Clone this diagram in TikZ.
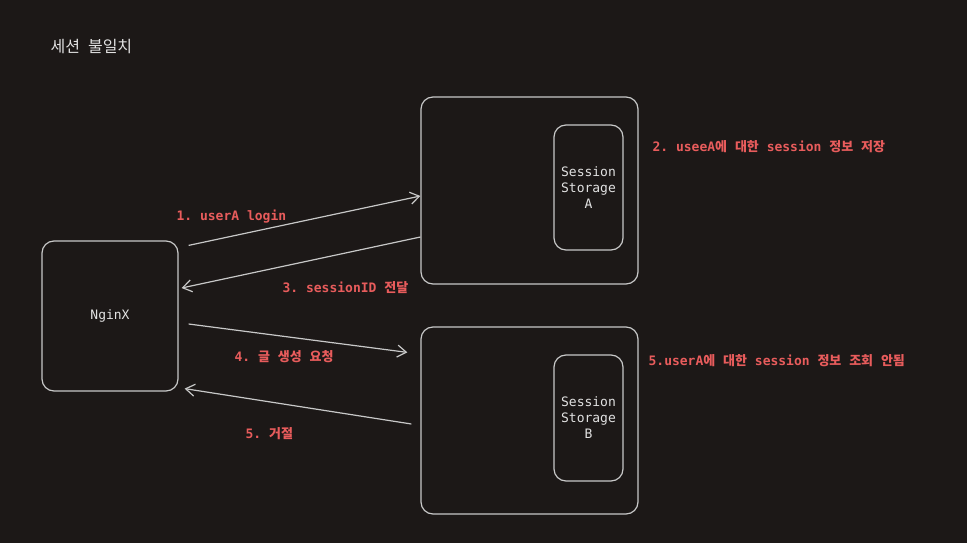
\documentclass[tikz,border=0pt]{standalone}
\usepackage{fontspec}
\setmainfont{DejaVu Sans}
\setmonofont{DejaVu Sans Mono}
\newfontfamily\krfont{Noto Sans CJK KR}
\newcommand{\ko}[1]{{\krfont #1}}
\usetikzlibrary{arrows.meta,positioning}
\definecolor{bg}{HTML}{1C1817}
\definecolor{edgegray}{HTML}{C8C8C8}
\definecolor{labelred}{HTML}{E85C5C}
\definecolor{textwhite}{HTML}{E2E2E2}

\begin{document}
\begin{tikzpicture}[x=1pt,y=-1pt,>={Straight Barb[length=9pt,width=12pt]},
                    line width=1.2pt]

  \tikzstyle{box}=[draw=edgegray,rounded corners=12pt,text=textwhite,align=center,
                   font=\ttfamily\fontsize{13}{16}\selectfont]
  \tikzstyle{msg}=[text=labelred,inner sep=0pt,anchor=west,
                   font=\ttfamily\bfseries\fontsize{13}{16}\selectfont]
  \tikzstyle{link}=[->,draw=edgegray]

  \fill[bg] (0,0) rectangle (967,543);
  \useasboundingbox (0,0) rectangle (967,543);

  \node[text=textwhite,anchor=west,inner sep=0pt,
        font=\krfont\fontsize{16}{18}\selectfont] (T) at (50,47) {세션\hspace{8pt}불일치};

  \node[box,minimum width=136pt,minimum height=150pt] (N)  at (110,316)   {NginX};
  \node[box,minimum width=217pt,minimum height=187pt] (S1) at (529.5,190.5) {};
  \node[box,minimum width=217pt,minimum height=187pt] (S2) at (529.5,420.5) {};
  \node[box,minimum width=69pt,minimum height=125pt,yshift=3pt]   (A) [left=15pt of S1.east] {Session\\Storage\\A};
  \node[box,minimum width=69pt,minimum height=126pt,yshift=2.5pt] (B) [left=15pt of S2.east] {Session\\Storage\\B};

  \draw[link] ([shift={(10,5)}]N.north east) -- ([shift={(0,5.5)}]S1.west);
  \draw[link] ([shift={(0,46.5)}]S1.west)    -- ([shift={(3,-28)}]N.east);
  \draw[link] ([shift={(10,8)}]N.east)       -- ([shift={(-13,26)}]S2.north west);
  \draw[link] ([shift={(-9,3.5)}]S2.west)    -- ([shift={(6,-3)}]N.south east);

  \node[msg] (L1) at (176,217) {1. userA login};
  \node[msg] (L2) at (652,147) {2. useeA\ko{에} \ko{대한} session \ko{정보} \ko{저장}};
  \node[msg] (L3) at (282,288) {3. sessionID \ko{전달}};
  \node[msg] (L4) at (234,357) {4. \ko{글} \ko{생성} \ko{요청}};
  \node[msg] (L5) at (648,361) {5.userA\ko{에} \ko{대한} session \ko{정보} \ko{조회} \ko{안됨}};
  \node[msg] (L6) at (245,434) {5. \ko{거절}};
\end{tikzpicture}
\end{document}
